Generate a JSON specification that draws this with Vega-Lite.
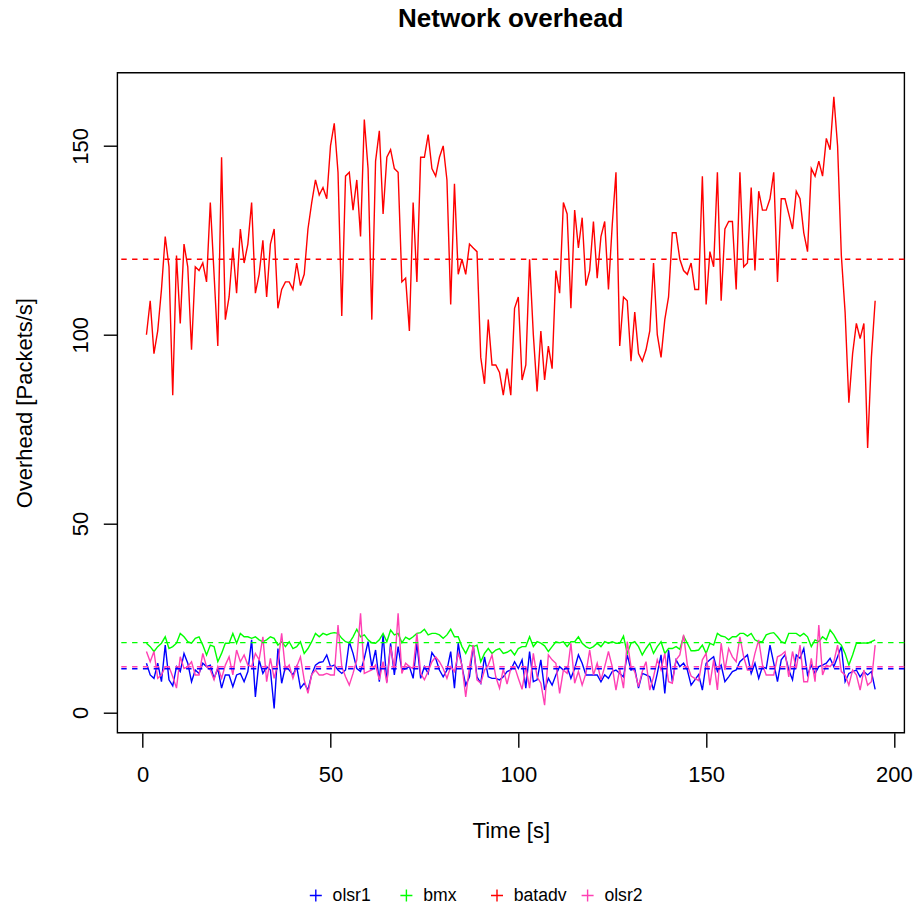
{
  "$schema": "https://vega.github.io/schema/vega-lite/v6.json",
  "width": 787,
  "height": 660,
  "autosize": "none",
  "padding": {"left": 117.3, "top": 72.7, "right": 8.7, "bottom": 173.3},
  "background": "white",
  "title": {"text": "Network overhead", "fontSize": 26, "fontWeight": "bold", "font": "Liberation Sans", "color": "black", "anchor": "middle", "frame": "group", "baseline": "alphabetic", "offset": 19.5},
  "datasets": {
    "series": [
      {"t":1,"olsr1":13.0,"bmx":18.3,"batadv":100,"olsr2":16.1},
      {"t":2,"olsr1":9.9,"bmx":17.4,"batadv":109,"olsr2":13.4},
      {"t":3,"olsr1":9.0,"bmx":16.1,"batadv":95,"olsr2":16.1},
      {"t":4,"olsr1":13.0,"bmx":17.4,"batadv":101,"olsr2":9.0},
      {"t":5,"olsr1":8.1,"bmx":18.3,"batadv":112,"olsr2":9.9},
      {"t":6,"olsr1":17.8,"bmx":20.0,"batadv":126,"olsr2":12.1},
      {"t":7,"olsr1":8.6,"bmx":16.9,"batadv":118,"olsr2":12.1},
      {"t":8,"olsr1":7.0,"bmx":17.4,"batadv":84,"olsr2":9.4},
      {"t":9,"olsr1":12.1,"bmx":18.3,"batadv":121,"olsr2":6.4},
      {"t":10,"olsr1":10.8,"bmx":20.9,"batadv":103,"olsr2":14.7},
      {"t":11,"olsr1":15.6,"bmx":20.0,"batadv":124,"olsr2":11.6},
      {"t":12,"olsr1":13.0,"bmx":18.7,"batadv":118,"olsr2":12.1},
      {"t":13,"olsr1":8.1,"bmx":18.3,"batadv":96,"olsr2":13.4},
      {"t":14,"olsr1":11.2,"bmx":19.6,"batadv":118,"olsr2":9.9},
      {"t":15,"olsr1":10.3,"bmx":20.0,"batadv":117,"olsr2":9.9},
      {"t":16,"olsr1":13.0,"bmx":17.8,"batadv":119,"olsr2":15.6},
      {"t":17,"olsr1":12.1,"bmx":15.2,"batadv":114,"olsr2":12.1},
      {"t":18,"olsr1":12.5,"bmx":17.8,"batadv":135,"olsr2":11.2},
      {"t":19,"olsr1":9.0,"bmx":17.4,"batadv":116,"olsr2":8.6},
      {"t":20,"olsr1":11.6,"bmx":13.4,"batadv":97,"olsr2":12.1},
      {"t":21,"olsr1":6.4,"bmx":15.6,"batadv":147,"olsr2":9.0},
      {"t":22,"olsr1":9.9,"bmx":18.3,"batadv":104,"olsr2":12.5},
      {"t":23,"olsr1":9.9,"bmx":18.3,"batadv":110,"olsr2":14.7},
      {"t":24,"olsr1":6.8,"bmx":20.9,"batadv":123,"olsr2":9.9},
      {"t":25,"olsr1":9.9,"bmx":18.3,"batadv":111,"olsr2":16.5},
      {"t":26,"olsr1":10.3,"bmx":20.9,"batadv":128,"olsr2":13.4},
      {"t":27,"olsr1":8.1,"bmx":20.0,"batadv":119,"olsr2":15.2},
      {"t":28,"olsr1":10.8,"bmx":20.0,"batadv":124,"olsr2":12.5},
      {"t":29,"olsr1":19.2,"bmx":19.6,"batadv":135,"olsr2":12.1},
      {"t":30,"olsr1":4.1,"bmx":20.0,"batadv":111,"olsr2":15.6},
      {"t":31,"olsr1":13.9,"bmx":19.2,"batadv":116,"olsr2":13.9},
      {"t":32,"olsr1":10.3,"bmx":18.7,"batadv":125,"olsr2":20.0},
      {"t":33,"olsr1":12.1,"bmx":19.2,"batadv":110,"olsr2":8.1},
      {"t":34,"olsr1":11.2,"bmx":20.0,"batadv":124,"olsr2":14.3},
      {"t":35,"olsr1":1.0,"bmx":19.6,"batadv":128,"olsr2":9.0},
      {"t":36,"olsr1":16.9,"bmx":17.8,"batadv":107,"olsr2":13.0},
      {"t":37,"olsr1":7.7,"bmx":18.7,"batadv":112,"olsr2":20.9},
      {"t":38,"olsr1":12.1,"bmx":17.4,"batadv":114,"olsr2":11.2},
      {"t":39,"olsr1":11.2,"bmx":18.7,"batadv":114,"olsr2":12.5},
      {"t":40,"olsr1":9.9,"bmx":16.9,"batadv":112,"olsr2":9.0},
      {"t":41,"olsr1":12.1,"bmx":17.4,"batadv":119,"olsr2":12.1},
      {"t":42,"olsr1":6.4,"bmx":18.7,"batadv":113,"olsr2":14.7},
      {"t":43,"olsr1":7.7,"bmx":15.6,"batadv":116,"olsr2":8.6},
      {"t":44,"olsr1":5.9,"bmx":16.9,"batadv":128,"olsr2":5.0},
      {"t":45,"olsr1":10.0,"bmx":18.7,"batadv":135,"olsr2":10.0},
      {"t":46,"olsr1":12.5,"bmx":20.9,"batadv":141,"olsr2":11.2},
      {"t":47,"olsr1":13.2,"bmx":20.0,"batadv":137,"olsr2":9.9},
      {"t":48,"olsr1":13.4,"bmx":20.9,"batadv":139,"olsr2":9.9},
      {"t":49,"olsr1":15.2,"bmx":20.5,"batadv":136,"olsr2":10.3},
      {"t":50,"olsr1":12.1,"bmx":20.9,"batadv":150,"olsr2":9.9},
      {"t":51,"olsr1":12.5,"bmx":21.1,"batadv":156,"olsr2":9.9},
      {"t":52,"olsr1":11.2,"bmx":20.9,"batadv":143,"olsr2":23.1},
      {"t":53,"olsr1":10.3,"bmx":19.6,"batadv":105,"olsr2":12.1},
      {"t":54,"olsr1":11.2,"bmx":18.7,"batadv":142,"olsr2":9.4},
      {"t":55,"olsr1":18.7,"bmx":18.4,"batadv":143,"olsr2":7.2},
      {"t":56,"olsr1":15.6,"bmx":20.0,"batadv":133,"olsr2":10.3},
      {"t":57,"olsr1":11.6,"bmx":22.0,"batadv":141,"olsr2":13.9},
      {"t":58,"olsr1":10.8,"bmx":20.0,"batadv":126,"olsr2":26.2},
      {"t":59,"olsr1":14.3,"bmx":20.5,"batadv":157,"olsr2":10.3},
      {"t":60,"olsr1":18.7,"bmx":19.2,"batadv":144,"olsr2":10.8},
      {"t":61,"olsr1":12.1,"bmx":18.4,"batadv":104,"olsr2":11.2},
      {"t":62,"olsr1":16.5,"bmx":18.3,"batadv":146,"olsr2":12.5},
      {"t":63,"olsr1":8.1,"bmx":19.2,"batadv":154,"olsr2":8.6},
      {"t":64,"olsr1":20.5,"bmx":20.9,"batadv":132,"olsr2":13.4},
      {"t":65,"olsr1":8.1,"bmx":18.7,"batadv":147,"olsr2":7.7},
      {"t":66,"olsr1":18.3,"bmx":21.8,"batadv":149,"olsr2":17.4},
      {"t":67,"olsr1":9.9,"bmx":20.5,"batadv":144,"olsr2":11.6},
      {"t":68,"olsr1":17.4,"bmx":20.9,"batadv":143,"olsr2":26.2},
      {"t":69,"olsr1":11.2,"bmx":18.4,"batadv":114,"olsr2":10.3},
      {"t":70,"olsr1":11.6,"bmx":19.9,"batadv":115,"olsr2":13.0},
      {"t":71,"olsr1":12.1,"bmx":19.3,"batadv":101,"olsr2":12.1},
      {"t":72,"olsr1":9.0,"bmx":20.0,"batadv":135,"olsr2":11.6},
      {"t":73,"olsr1":18.3,"bmx":20.9,"batadv":114,"olsr2":20.9},
      {"t":74,"olsr1":9.0,"bmx":21.1,"batadv":147,"olsr2":10.3},
      {"t":75,"olsr1":12.1,"bmx":22.0,"batadv":147,"olsr2":8.6},
      {"t":76,"olsr1":10.3,"bmx":20.5,"batadv":153,"olsr2":10.8},
      {"t":77,"olsr1":15.8,"bmx":20.9,"batadv":144,"olsr2":13.4},
      {"t":78,"olsr1":14.3,"bmx":20.9,"batadv":142,"olsr2":14.7},
      {"t":79,"olsr1":11.2,"bmx":20.5,"batadv":147,"olsr2":13.4},
      {"t":80,"olsr1":9.4,"bmx":19.6,"batadv":150,"olsr2":11.6},
      {"t":81,"olsr1":11.2,"bmx":20.5,"batadv":141,"olsr2":9.0},
      {"t":82,"olsr1":16.1,"bmx":22.0,"batadv":108,"olsr2":12.1},
      {"t":83,"olsr1":6.4,"bmx":20.0,"batadv":140,"olsr2":10.8},
      {"t":84,"olsr1":18.3,"bmx":20.0,"batadv":116,"olsr2":15.6},
      {"t":85,"olsr1":12.1,"bmx":17.4,"batadv":120,"olsr2":12.5},
      {"t":86,"olsr1":7.2,"bmx":15.6,"batadv":116,"olsr2":4.1},
      {"t":87,"olsr1":9.4,"bmx":17.8,"batadv":124,"olsr2":12.1},
      {"t":88,"olsr1":17.8,"bmx":17.4,"batadv":123,"olsr2":17.8},
      {"t":89,"olsr1":9.4,"bmx":17.8,"batadv":122,"olsr2":8.6},
      {"t":90,"olsr1":7.7,"bmx":13.4,"batadv":94,"olsr2":7.7},
      {"t":91,"olsr1":14.7,"bmx":15.6,"batadv":87,"olsr2":11.2},
      {"t":92,"olsr1":9.4,"bmx":16.9,"batadv":104,"olsr2":12.5},
      {"t":93,"olsr1":9.0,"bmx":15.6,"batadv":92,"olsr2":15.2},
      {"t":94,"olsr1":9.0,"bmx":16.5,"batadv":92,"olsr2":9.4},
      {"t":95,"olsr1":8.6,"bmx":16.9,"batadv":90,"olsr2":6.4},
      {"t":96,"olsr1":9.4,"bmx":15.6,"batadv":84,"olsr2":11.5},
      {"t":97,"olsr1":10.8,"bmx":15.9,"batadv":91,"olsr2":7.5},
      {"t":98,"olsr1":11.2,"bmx":16.5,"batadv":84,"olsr2":11.6},
      {"t":99,"olsr1":13.4,"bmx":15.2,"batadv":107,"olsr2":12.1},
      {"t":100,"olsr1":11.6,"bmx":16.9,"batadv":110,"olsr2":9.0},
      {"t":101,"olsr1":13.9,"bmx":17.4,"batadv":88,"olsr2":6.1},
      {"t":102,"olsr1":6.4,"bmx":17.4,"batadv":92,"olsr2":12.1},
      {"t":103,"olsr1":16.1,"bmx":20.0,"batadv":120,"olsr2":6.4},
      {"t":104,"olsr1":8.1,"bmx":17.4,"batadv":100,"olsr2":15.6},
      {"t":105,"olsr1":8.6,"bmx":18.7,"batadv":85,"olsr2":9.4},
      {"t":106,"olsr1":13.9,"bmx":18.3,"batadv":101,"olsr2":7.7},
      {"t":107,"olsr1":5.9,"bmx":17.6,"batadv":88,"olsr2":1.9},
      {"t":108,"olsr1":9.0,"bmx":16.1,"batadv":97,"olsr2":15.2},
      {"t":109,"olsr1":7.2,"bmx":17.4,"batadv":91,"olsr2":13.9},
      {"t":110,"olsr1":9.9,"bmx":18.7,"batadv":117,"olsr2":13.0},
      {"t":111,"olsr1":12.1,"bmx":18.4,"batadv":111,"olsr2":5.0},
      {"t":112,"olsr1":11.2,"bmx":18.7,"batadv":135,"olsr2":11.2},
      {"t":113,"olsr1":12.1,"bmx":17.4,"batadv":132,"olsr2":10.3},
      {"t":114,"olsr1":9.0,"bmx":18.7,"batadv":107,"olsr2":18.3},
      {"t":115,"olsr1":11.6,"bmx":18.7,"batadv":133,"olsr2":7.7},
      {"t":116,"olsr1":15.2,"bmx":20.0,"batadv":123,"olsr2":10.8},
      {"t":117,"olsr1":13.0,"bmx":18.3,"batadv":131,"olsr2":7.2},
      {"t":118,"olsr1":9.9,"bmx":17.4,"batadv":113,"olsr2":10.3},
      {"t":119,"olsr1":9.9,"bmx":16.9,"batadv":117,"olsr2":16.5},
      {"t":120,"olsr1":9.9,"bmx":17.4,"batadv":130,"olsr2":9.9},
      {"t":121,"olsr1":9.9,"bmx":18.3,"batadv":115,"olsr2":13.0},
      {"t":122,"olsr1":8.1,"bmx":17.4,"batadv":126,"olsr2":8.6},
      {"t":123,"olsr1":9.9,"bmx":18.7,"batadv":130,"olsr2":12.1},
      {"t":124,"olsr1":9.0,"bmx":18.3,"batadv":112,"olsr2":16.1},
      {"t":125,"olsr1":10.8,"bmx":18.7,"batadv":129,"olsr2":12.1},
      {"t":126,"olsr1":11.2,"bmx":18.3,"batadv":143,"olsr2":5.9},
      {"t":127,"olsr1":10.3,"bmx":18.3,"batadv":97,"olsr2":11.6},
      {"t":128,"olsr1":9.4,"bmx":20.2,"batadv":110,"olsr2":6.4},
      {"t":129,"olsr1":15.2,"bmx":15.6,"batadv":109,"olsr2":18.7},
      {"t":130,"olsr1":11.2,"bmx":18.3,"batadv":93,"olsr2":12.1},
      {"t":131,"olsr1":11.6,"bmx":18.7,"batadv":106,"olsr2":10.8},
      {"t":132,"olsr1":6.4,"bmx":17.4,"batadv":95,"olsr2":6.8},
      {"t":133,"olsr1":10.3,"bmx":15.2,"batadv":93,"olsr2":10.8},
      {"t":134,"olsr1":9.9,"bmx":16.9,"batadv":96,"olsr2":13.4},
      {"t":135,"olsr1":9.4,"bmx":18.3,"batadv":101,"olsr2":5.9},
      {"t":136,"olsr1":5.9,"bmx":15.6,"batadv":119,"olsr2":9.4},
      {"t":137,"olsr1":10.3,"bmx":17.4,"batadv":100,"olsr2":13.9},
      {"t":138,"olsr1":15.2,"bmx":18.7,"batadv":94,"olsr2":11.2},
      {"t":139,"olsr1":5.0,"bmx":15.6,"batadv":104,"olsr2":15.6},
      {"t":140,"olsr1":16.5,"bmx":16.9,"batadv":110,"olsr2":8.1},
      {"t":141,"olsr1":8.1,"bmx":16.9,"batadv":127,"olsr2":7.7},
      {"t":142,"olsr1":13.9,"bmx":17.4,"batadv":127,"olsr2":13.9},
      {"t":143,"olsr1":12.1,"bmx":16.7,"batadv":120,"olsr2":15.2},
      {"t":144,"olsr1":13.0,"bmx":20.2,"batadv":117,"olsr2":20.5},
      {"t":145,"olsr1":11.2,"bmx":18.3,"batadv":116,"olsr2":12.5},
      {"t":146,"olsr1":7.2,"bmx":16.3,"batadv":119,"olsr2":9.6},
      {"t":147,"olsr1":8.6,"bmx":16.3,"batadv":112,"olsr2":9.0},
      {"t":148,"olsr1":10.0,"bmx":16.5,"batadv":112,"olsr2":8.4},
      {"t":149,"olsr1":5.9,"bmx":17.8,"batadv":142,"olsr2":13.9},
      {"t":150,"olsr1":13.0,"bmx":15.6,"batadv":108,"olsr2":15.6},
      {"t":151,"olsr1":13.9,"bmx":18.3,"batadv":122,"olsr2":7.2},
      {"t":152,"olsr1":14.7,"bmx":17.8,"batadv":118,"olsr2":13.9},
      {"t":153,"olsr1":10.8,"bmx":20.9,"batadv":143,"olsr2":5.9},
      {"t":154,"olsr1":12.5,"bmx":20.2,"batadv":109,"olsr2":18.3},
      {"t":155,"olsr1":8.1,"bmx":20.0,"batadv":128,"olsr2":11.2},
      {"t":156,"olsr1":9.4,"bmx":19.2,"batadv":130,"olsr2":16.9},
      {"t":157,"olsr1":10.8,"bmx":20.0,"batadv":130,"olsr2":14.7},
      {"t":158,"olsr1":11.2,"bmx":20.0,"batadv":112,"olsr2":13.4},
      {"t":159,"olsr1":13.4,"bmx":20.9,"batadv":143,"olsr2":20.0},
      {"t":160,"olsr1":14.3,"bmx":20.9,"batadv":118,"olsr2":14.7},
      {"t":161,"olsr1":15.2,"bmx":20.2,"batadv":119,"olsr2":11.2},
      {"t":162,"olsr1":10.3,"bmx":20.9,"batadv":139,"olsr2":11.2},
      {"t":163,"olsr1":13.0,"bmx":19.2,"batadv":117,"olsr2":15.6},
      {"t":164,"olsr1":9.0,"bmx":18.7,"batadv":138,"olsr2":19.2},
      {"t":165,"olsr1":12.1,"bmx":18.7,"batadv":133,"olsr2":12.5},
      {"t":166,"olsr1":11.6,"bmx":20.5,"batadv":133,"olsr2":9.9},
      {"t":167,"olsr1":17.8,"bmx":20.9,"batadv":136,"olsr2":9.9},
      {"t":168,"olsr1":13.0,"bmx":21.1,"batadv":143,"olsr2":9.9},
      {"t":169,"olsr1":8.1,"bmx":20.0,"batadv":114,"olsr2":14.7},
      {"t":170,"olsr1":13.9,"bmx":18.7,"batadv":136,"olsr2":15.2},
      {"t":171,"olsr1":15.2,"bmx":18.3,"batadv":136,"olsr2":16.1},
      {"t":172,"olsr1":11.2,"bmx":20.9,"batadv":132,"olsr2":9.4},
      {"t":173,"olsr1":8.6,"bmx":20.9,"batadv":128,"olsr2":16.1},
      {"t":174,"olsr1":15.2,"bmx":20.9,"batadv":138,"olsr2":11.6},
      {"t":175,"olsr1":14.3,"bmx":20.2,"batadv":136,"olsr2":17.8},
      {"t":176,"olsr1":16.9,"bmx":20.9,"batadv":127,"olsr2":8.1},
      {"t":177,"olsr1":9.9,"bmx":20.0,"batadv":122,"olsr2":8.1},
      {"t":178,"olsr1":12.5,"bmx":17.4,"batadv":144,"olsr2":14.3},
      {"t":179,"olsr1":10.3,"bmx":19.2,"batadv":142,"olsr2":8.1},
      {"t":180,"olsr1":12.1,"bmx":18.7,"batadv":146,"olsr2":23.1},
      {"t":181,"olsr1":12.5,"bmx":20.0,"batadv":142,"olsr2":9.9},
      {"t":182,"olsr1":13.0,"bmx":19.2,"batadv":152,"olsr2":12.5},
      {"t":183,"olsr1":14.3,"bmx":21.8,"batadv":149,"olsr2":12.1},
      {"t":184,"olsr1":12.1,"bmx":20.5,"batadv":163,"olsr2":13.4},
      {"t":185,"olsr1":14.7,"bmx":18.7,"batadv":150,"olsr2":17.8},
      {"t":186,"olsr1":17.4,"bmx":17.8,"batadv":121,"olsr2":10.8},
      {"t":187,"olsr1":8.1,"bmx":15.6,"batadv":106,"olsr2":9.9},
      {"t":188,"olsr1":10.3,"bmx":12.5,"batadv":82,"olsr2":7.2},
      {"t":189,"olsr1":10.8,"bmx":15.2,"batadv":95,"olsr2":11.2},
      {"t":190,"olsr1":11.2,"bmx":18.3,"batadv":103,"olsr2":9.9},
      {"t":191,"olsr1":9.4,"bmx":18.3,"batadv":99,"olsr2":5.9},
      {"t":192,"olsr1":10.8,"bmx":18.4,"batadv":103,"olsr2":11.2},
      {"t":193,"olsr1":9.9,"bmx":18.3,"batadv":70,"olsr2":7.2},
      {"t":194,"olsr1":10.8,"bmx":18.7,"batadv":94,"olsr2":8.1},
      {"t":195,"olsr1":6.1,"bmx":19.2,"batadv":109,"olsr2":17.8}
    ],
    "means": [
      {"s": "olsr1", "m": 11.55},
      {"s": "bmx", "m": 18.45},
      {"s": "batadv", "m": 120.0},
      {"s": "olsr2", "m": 12.08}
    ]
  },
  "layer": [
    {
      "data": {"name": "series"},
      "transform": [{"fold": ["olsr1", "bmx", "batadv", "olsr2"], "as": ["s", "v"]}],
      "mark": {"type": "line", "strokeWidth": 1.4, "clip": true},
      "encoding": {
        "x": {"field": "t", "type": "quantitative", "scale": {"domain": [-6.76, 202.76], "nice": false, "zero": false},
              "axis": {"values": [0, 50, 100, 150, 200], "title": "Time [s]", "titleX": 393.5, "titleY": 104.7, "titleBaseline": "alphabetic", "titleAnchor": "middle"}},
        "y": {"field": "v", "type": "quantitative", "scale": {"domain": [-5.4, 169.4], "nice": false, "zero": false},
              "axis": {"values": [0, 50, 100, 150], "title": "Overhead [Packets/s]", "labelAngle": -90, "labelAlign": "center", "labelBaseline": "alphabetic", "labelPadding": 16.3, "titleAngle": -90, "titleX": -86.3, "titleY": 330, "titleBaseline": "alphabetic", "titleAlign": "center"}},
        "color": {"field": "s", "type": "nominal", "scale": {"domain": ["olsr1", "bmx", "batadv", "olsr2"], "range": ["#0000FF", "#00FF00", "#FF0000", "#FF40B4"]},
                  "legend": {"title": null, "orient": "none", "direction": "horizontal", "columns": 4, "gridAlign": "all", "legendX": 189.7, "legendY": 813.8, "padding": 0, "symbolType": "M-1,0H1M0,-1V1", "symbolSize": 144, "symbolStrokeWidth": 1.4, "symbolFillColor": "transparent", "labelOffset": 8, "columnPadding": 11.6, "labelFontSize": 17.6, "labelFont": "Liberation Sans", "labelColor": "black", "labelBaseline": "middle"}},
        "order": {"field": "t", "type": "quantitative"}
      }
    },
    {
      "data": {"name": "means"},
      "mark": {"type": "rule", "strokeWidth": 1.4, "strokeDash": [5.4, 5.4]},
      "encoding": {
        "y": {"field": "m", "type": "quantitative"},
        "color": {"field": "s", "type": "nominal"}
      }
    }
  ],
  "config": {
    "view": {"stroke": "black", "strokeWidth": 1.4, "fill": null},
    "axis": {"grid": false, "domain": false, "tickColor": "black", "tickWidth": 1.4, "tickSize": 14.6, "labelFont": "Liberation Sans", "labelFontSize": 22, "labelColor": "black", "titleFont": "Liberation Sans", "titleFontSize": 22, "titleFontWeight": "normal", "titleColor": "black", "labelPadding": 17},
    "axisY": {"tickSize": 14}
  }
}
